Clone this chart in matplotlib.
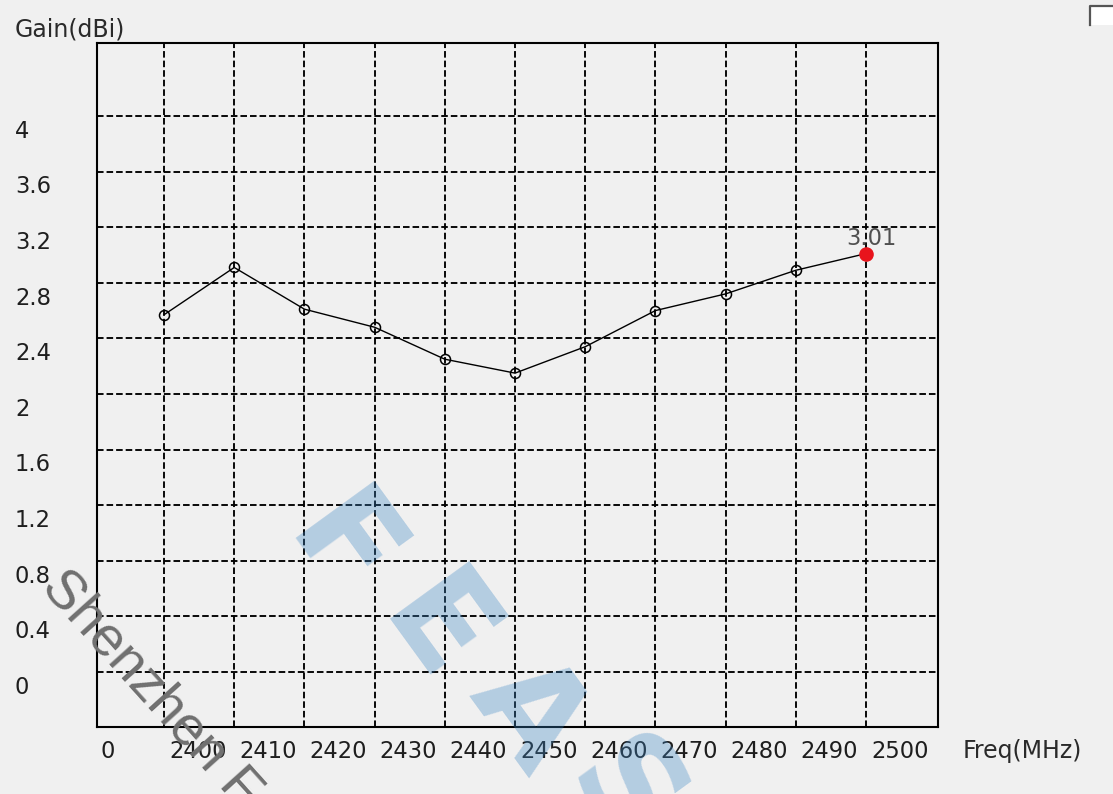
import matplotlib
matplotlib.use('Agg')
import matplotlib.pyplot as plt
from matplotlib.patches import Rectangle
from matplotlib.lines import Line2D
import numpy as np

# ---- data ----
freq = [2400, 2410, 2420, 2430, 2440, 2450, 2460, 2470, 2480, 2490, 2500]
gain = [2.57, 2.91, 2.61, 2.48, 2.25, 2.15, 2.34, 2.60, 2.72, 2.89, 3.01]
x_tick_labels = ['0', '2400', '2410', '2420', '2430', '2440', '2450',
                 '2460', '2470', '2480', '2490', '2500']
y_ticks = [0, 0.4, 0.8, 1.2, 1.6, 2.0, 2.4, 2.8, 3.2, 3.6, 4.0]
y_tick_labels = ['0', '0.4', '0.8', '1.2', '1.6', '2', '2.4', '2.8', '3.2', '3.6', '4']
x_title = 'Freq(MHz)'
y_title = 'Gain(dBi)'

W, H = 1113, 794
BG = '#f0f0f0'
FONT = ['DejaVu Sans']
FS = 16.3
FS_T = 17
TXT = '#1e1e1e'

fig = plt.figure(figsize=(W / 100, H / 100), dpi=100, facecolor=BG)
ax = fig.add_axes([97 / W, 1 - 727 / H, 841 / W, 684 / H])
ax.set_facecolor(BG)
ax.set_xlim(2390.45, 2510.25)
ax.set_ylim(-0.396, 4.525)
ax.set_xticks(freq)
ax.set_yticks(y_ticks)
ax.tick_params(length=0, labelbottom=False, labelleft=False)
ax.grid(True, color='black', linestyle=(0, (3.5, 1.6)), linewidth=1.35)
ax.set_axisbelow(True)
for s in ax.spines.values():
    s.set_linewidth(1.5)
    s.set_color('black')

# series
ax.plot(freq, gain, color='black', lw=1.0, marker='o', mfc='none', mec='black',
        ms=7.2, mew=1.1, markevery=list(range(len(freq) - 1)), zorder=4)
ax.plot(freq[-1], gain[-1], 'o', color='#e8141c', ms=9.5, zorder=5)
ax.annotate(f'{gain[-1]:.2f}', (freq[-1], gain[-1]), xytext=(3.6, 11),
            textcoords='offset points', ha='center', va='center',
            fontsize=FS, color='#505050', family=FONT, zorder=6)

# y labels (left aligned at figure left, just below each gridline)
for v, lab in zip(y_ticks, y_tick_labels):
    ax.annotate(lab, xy=(15 / W, v), xycoords=('figure fraction', 'data'),
                xytext=(0, -11.0), textcoords='offset points', ha='left', va='center',
                fontsize=FS, color=TXT, family=FONT, annotation_clip=False)

# x labels (left aligned just right of each gridline)
x_label_pos = [ax.get_xlim()[0]] + freq
for i, (v, lab) in enumerate(zip(x_label_pos, x_tick_labels)):
    off = 2.2 if i == 0 else 3.6
    ax.annotate(lab, xy=(v, 0), xycoords=('data', 'axes fraction'),
                xytext=(off, -17.8), textcoords='offset points', ha='left', va='center',
                fontsize=FS, color=TXT, family=FONT, annotation_clip=False)

fig.text(963 / W, 1 - 751 / H, x_title, ha='left', va='center', fontsize=FS_T,
         color='#2a2a2a', family=FONT)
fig.text(15 / W, 1 - 29.5 / H, y_title, ha='left', va='center', fontsize=FS_T,
         color='#2a2a2a', family=FONT)

# checkbox in the top right corner
fig.patches.append(Rectangle((1089 / W, 1 - 25 / H), 24 / W, 20 / H,
                             transform=fig.transFigure, facecolor='white',
                             edgecolor='none'))
fig.lines.append(Line2D([1090 / W, 1090 / W, 1113 / W], [1 - 25 / H, 1 - 6 / H, 1 - 6 / H],
                        transform=fig.transFigure, color='#555555', lw=1.6))

# watermarks
wm = 'FEASYCOM'
ang = np.deg2rad(41)
x0, y0 = 340, 552
step = 124
for i, ch in enumerate(wm):
    px = x0 + i * step * np.cos(ang)
    py = y0 + i * step * np.sin(ang)
    fig.text(px / W, 1 - py / H, ch, ha='center', va='center', rotation=-54,
             rotation_mode='anchor', fontsize=96, fontweight='bold',
             color='#3a85c4', alpha=0.33, family='DejaVu Sans', zorder=10)

fig.text(40 / W, 1 - 588 / H, 'Shenzhen Feasycom Technology', ha='left', va='baseline',
         rotation=-48, rotation_mode='anchor', fontsize=40, color='#707070',
         family=['Liberation Sans', 'DejaVu Sans'], zorder=10)

fig.savefig('out.png', dpi=100, facecolor=BG)
